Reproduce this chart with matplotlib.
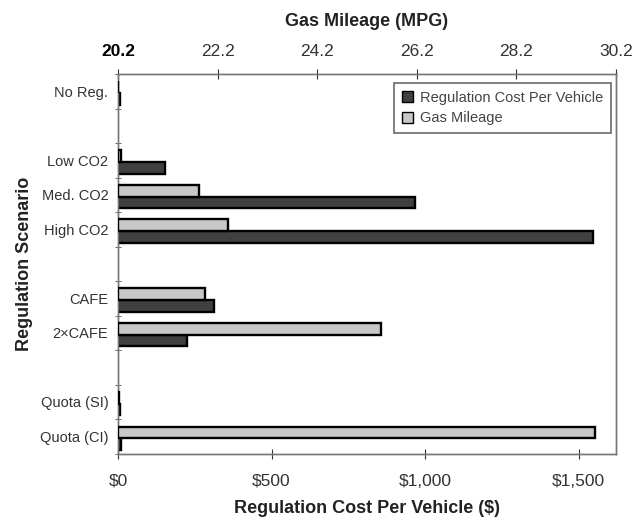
import matplotlib.pyplot as plt
from matplotlib.patches import Patch
from matplotlib.ticker import FuncFormatter, FixedLocator
import numpy as np

# scenarios (blank entries are the gaps between groups)
scenarios = ['No Reg.', '', 'Low CO2', 'Med. CO2', 'High CO2', '',
             'CAFE', '2\u00d7CAFE', '', 'Quota (SI)', 'Quota (CI)']
cost = [6, None, 152, 967, 1548, None, 313, 225, None, 8, 10]          # $ per vehicle
mpg = [20.2, None, 20.25, 21.83, 22.4, None, 21.95, 25.49, None, 20.22, 29.77]

mpg_base = 20.2
mpg_ticks = [20.2, 22.2, 24.2, 26.2, 28.2, 30.2]
cost_ticks = [0, 500, 1000, 1500]

plt.rcParams['font.family'] = ['Liberation Sans', 'DejaVu Sans']

dark = '#404040'
light = '#c8c8c8'
txt = '#333333'


def main():
    fig = plt.figure(figsize=(6.38, 5.21), dpi=100)
    ax = fig.add_axes([0.185, 0.129, 0.7805, 0.729])
    ax2 = ax.twiny()

    idx = [i for i, c in enumerate(cost) if c is not None]
    y = np.arange(len(scenarios))
    h = 0.34

    ax.barh([y[i] + h / 2 + 0.05 for i in idx], [cost[i] for i in idx], height=h,
            color=dark, edgecolor='black', linewidth=1.7, zorder=3)
    ax2.barh([y[i] - h / 2 + 0.05 for i in idx], [mpg[i] - mpg_base for i in idx],
             left=mpg_base, height=h, color=light, edgecolor='black', linewidth=1.7, zorder=3)

    ax.set_ylim(len(scenarios) - 0.5, -0.5)
    ax.set_xlim(0, 1622)
    ax2.set_xlim(20.2, 30.2)

    ax.set_yticks(y)
    ax.set_yticklabels(scenarios, fontsize=10.5, color=txt)
    ax.tick_params(axis='y', length=0, pad=7)
    ax.yaxis.set_minor_locator(FixedLocator(np.arange(-0.5, len(scenarios), 1.0)))
    ax.tick_params(axis='y', which='minor', length=4, direction='inout', color='#555555')

    ax.set_xticks(cost_ticks)
    ax.xaxis.set_major_formatter(FuncFormatter(lambda v, _: '${:,.0f}'.format(v)))
    ax.tick_params(axis='x', labelsize=12.5, colors=txt, direction='inout', length=7, pad=11)

    ax2.set_xticks(mpg_ticks)
    ax2.set_xticklabels(['{:.1f}'.format(t) for t in mpg_ticks])
    ax2.tick_params(axis='x', labelsize=12.5, colors=txt, direction='inout', length=7, pad=7)
    ax2.get_xticklabels()[0].set_fontweight('bold')
    ax2.get_xticklabels()[0].set_color('black')

    for a in (ax, ax2):
        for s in a.spines.values():
            s.set_color('#777777')
            s.set_linewidth(1.0)

    ax.set_xlabel('Regulation Cost Per Vehicle ($)', fontsize=13, fontweight='bold',
                  color='#222222', labelpad=8)
    ax.set_ylabel('Regulation Scenario', fontsize=13, fontweight='bold',
                  color='#222222', labelpad=5)
    ax2.set_xlabel('Gas Mileage (MPG)', fontsize=13, fontweight='bold',
                   color='#222222', labelpad=13)

    handles = [Patch(facecolor=dark, edgecolor='black', label='Regulation Cost Per Vehicle'),
               Patch(facecolor=light, edgecolor='black', label='Gas Mileage')]
    leg = ax2.legend(handles=handles, loc='upper right', fontsize=10.5, frameon=True,
                     fancybox=False, handlelength=0.8, handleheight=0.8,
                     handletextpad=0.5, borderpad=0.5, labelspacing=0.45,
                     borderaxespad=0.0, bbox_to_anchor=(0.99, 0.975))
    leg.get_frame().set_edgecolor('#444444')
    leg.get_frame().set_linewidth(1.2)
    for t in leg.get_texts():
        t.set_color('#444444')

    plt.savefig('out.png', dpi=100)


if __name__ == '__main__':
    main()
